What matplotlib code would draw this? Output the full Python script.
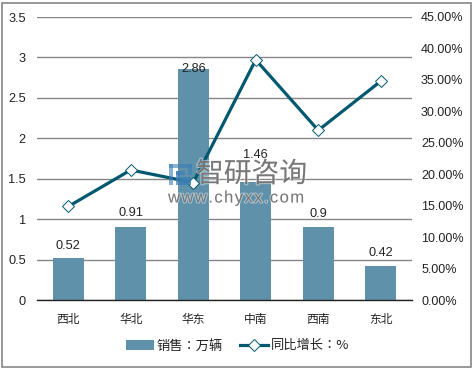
import numpy as np
import matplotlib
matplotlib.use("Agg")
import matplotlib.pyplot as plt
import matplotlib.patheffects as pe
from matplotlib.patches import Rectangle

plt.rcParams['font.family'] = ['Noto Sans CJK SC', 'DejaVu Sans']

regions = ['西北', '华北', '华东', '中南', '西南', '东北']
sales = [0.52, 0.91, 2.86, 1.46, 0.9, 0.42]
growth = [14.9, 20.7, 18.7, 38.2, 27.0, 34.8]
left_ticks = [0, 0.5, 1, 1.5, 2, 2.5, 3, 3.5]
left_labels = ['0', '0.5', '1', '1.5', '2', '2.5', '3', '3.5']
right_ticks = [0, 5, 10, 15, 20, 25, 30, 35, 40, 45]
# gap between bar top and label centre, in points
label_gaps = [9, 9.5, 0, 19.5, 10, 9.5]
bar_color = '#5f92aa'
line_color = '#02596f'
W, H = 474, 370

fig = plt.figure(figsize=(W / 100, H / 100), dpi=100)
# plot area in pixels: x 37-412, y 17-300
ax = fig.add_axes([37 / W, 1 - 300.3 / H, 375 / W, 283.3 / H])
x = np.arange(len(regions))

ax.bar(x, sales, width=0.5, color=bar_color, zorder=2, label='销售：万辆')
ax.set_xlim(-0.5, 5.5)
ax.set_ylim(0, 3.5)
ax.set_yticks(left_ticks)
ax.set_yticklabels(left_labels, family='Liberation Sans', fontsize=9.2, color='#222222')
ax.set_xticks(x)
ax.set_xticklabels(regions, fontsize=8.5, color='#222222')
ax.tick_params(axis='both', length=0)
ax.tick_params(axis='x', pad=9)
ax.tick_params(axis='y', pad=8)
ax.grid(axis='y', color='#868686', linewidth=1, zorder=1)
ax.set_axisbelow(True)
for s in ['top', 'left', 'right']:
    ax.spines[s].set_visible(False)
ax.spines['bottom'].set_color('#222222')
ax.spines['bottom'].set_linewidth(1)

for i, v in enumerate(sales):
    ax.annotate(str(v), (i, v), xytext=(0, label_gaps[i]), textcoords='offset points',
                ha='center', va='center', family='Liberation Sans',
                fontsize=9.2, color='#222222', zorder=6)

ax2 = ax.twinx()
ax2.plot(x, growth, color=line_color, linewidth=2.3, marker='D', markersize=6,
         markerfacecolor='white', markeredgecolor=line_color, markeredgewidth=0.7,
         zorder=5, label='同比增长：%')
ax2.set_ylim(0, 45)
ax2.set_yticks(right_ticks)
ax2.set_yticklabels(['%.2f%%' % t for t in right_ticks], family='Liberation Sans',
                    fontsize=9, color='#222222')
ax2.tick_params(axis='y', length=0, pad=6.5)
for s in ax2.spines.values():
    s.set_visible(False)

# legend, TC face has the colon centred like the original
h1, l1 = ax.get_legend_handles_labels()
h2, l2 = ax2.get_legend_handles_labels()
fig.legend(h1 + h2, l1 + l2, ncol=2, frameon=False,
           prop={'family': ['Noto Sans CJK TC', 'DejaVu Sans'], 'size': 9.5},
           loc='center', bbox_to_anchor=(237.5 / W, 1 - 346 / H),
           handlelength=2.1, handletextpad=0.2, columnspacing=1.35,
           labelcolor='#222222')

# outer border
fig.add_artist(Rectangle((1.5 / W, 1 - 367 / H), 469.5 / W, 364 / H, fill=False,
                         edgecolor='#868686', linewidth=1.2,
                         transform=fig.transFigure))

# watermark
logo = '#3f7fb5'
for (px, py, pw, ph, a) in [(169, 164, 23, 4, 0.6), (169, 164, 4, 21, 0.6),
                            (188, 164, 4, 11, 0.6), (176, 171, 9, 4, 0.75),
                            (176, 171, 4, 14, 0.75), (180, 177, 11, 8, 0.9)]:
    fig.add_artist(Rectangle((px / W, 1 - (py + ph) / H), pw / W, ph / H, facecolor=logo,
                             edgecolor='none', alpha=a, zorder=10,
                             transform=fig.transFigure))
halo = [pe.withStroke(linewidth=1.5, foreground='white', alpha=0.45)]
fig.text(196 / W, 1 - 174 / H, '智研咨询', fontsize=20, color='#6e6e6e', alpha=0.9,
         va='center', ha='left', zorder=10, path_effects=halo)
fig.text(168 / W, 1 - 198 / H, '\u200a'.join('www.chyxx.com'),
         family=['Liberation Sans', 'DejaVu Sans'], fontsize=12, color='#6e6e6e', alpha=0.9,
         va='center', ha='left', zorder=10, path_effects=halo)

fig.savefig('out.png', dpi=100)
